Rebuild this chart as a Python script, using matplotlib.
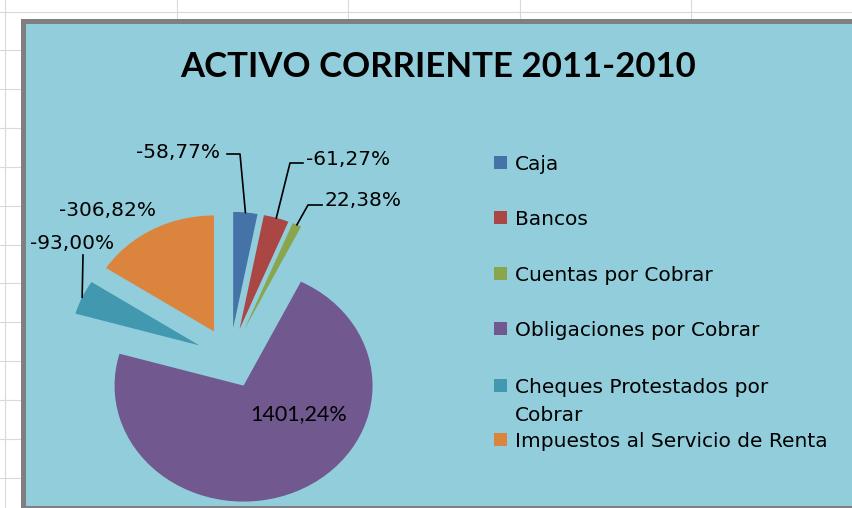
import matplotlib
matplotlib.use("Agg")
import matplotlib.pyplot as plt
from matplotlib.patches import Rectangle
import numpy as np

# data
categories = ["Caja", "Bancos", "Cuentas por Cobrar", "Obligaciones por Cobrar",
              "Cheques Protestados por\nCobrar", "Impuestos al Servicio de Renta"]
variation = [-58.77, -61.27, 22.38, 1401.24, -93.00, -306.82]
colors = ["#4572A7", "#AA4643", "#89A54E", "#71588F", "#4198AF", "#DB843D"]
title = "ACTIVO CORRIENTE 2011-2010"

# layout in pixels (figure is 852 x 508)
W, H = 852, 508
CX, CY = 230, 358      # pie centre
SX, SY = 129, 116      # pixels per unit radius (screenshot is stretched sideways)


def px(x, y):
    return ((x - CX) / SX, (CY - y) / SY)


fig = plt.figure(figsize=(W / 100, H / 100), dpi=100, facecolor="white")
ax = fig.add_axes([0, 0, 1, 1])

sizes = np.abs(variation)
wedges, _ = ax.pie(sizes, colors=colors, startangle=90, counterclock=False,
                   explode=[0.26] * len(sizes), radius=1,
                   wedgeprops=dict(linewidth=0, zorder=2))
ax.set_aspect("auto")
ax.set_xlim(px(0, 0)[0], px(W, 0)[0])
ax.set_ylim(px(0, H)[1], px(0, 0)[1])
ax.axis("off")

# spreadsheet grid behind the chart
for gx in [5, 177, 348, 520, 691]:
    ax.plot(*zip(px(gx, 0), px(gx, H)), color="#D9D9D9", lw=0.8, zorder=-2)
for gy in [12, 50, 89, 128, 167, 206, 245, 283, 322, 361, 400, 439, 478]:
    ax.plot(*zip(px(0, gy), px(W, gy)), color="#D9D9D9", lw=0.8, zorder=-2)

# chart area
x0, y0, x1, y1 = 22.5, 20.5, 880, 507.5
ax.add_patch(Rectangle(px(x0, y1), (x1 - x0) / SX, (y1 - y0) / SY,
                       facecolor="#92CDDC", edgecolor="#7F7F7F", lw=3.6, zorder=-1))

ax.text(*px(438, 77), title, fontsize=25, fontweight="bold", family="Lato",
        ha="center", va="baseline", color="black")

# data labels
label_pos = [(178, 158), (348, 165), (363, 206), (299, 420), (72, 249), (107, 216)]
leaders = [[(227, 154), (240, 154)], [(303, 163), (290, 163)],
           [(322, 205), (308, 205)], None, [(83, 255)], None]
for i, (w, v) in enumerate(zip(wedges, variation)):
    txt = f"{v:.2f}%".replace(".", ",")
    fam = "Lato" if i == 3 else "DejaVu Sans"
    fs = 15.5 if i == 3 else 14.5
    ax.text(*px(*label_pos[i]), txt, fontsize=fs, family=fam,
            ha="center", va="baseline", color="black", zorder=5)
    if leaders[i] is not None:
        ang = np.deg2rad((w.theta1 + w.theta2) / 2)
        tip = (w.center[0] + w.r * np.cos(ang), w.center[1] + w.r * np.sin(ang))
        pts = [px(*p) for p in leaders[i]] + [tip]
        ax.plot([p[0] for p in pts], [p[1] for p in pts], color="black", lw=1.2, zorder=4)

# legend
legend_base = [170, 225, 281, 336, 393, 447]
for lab, col, base in zip(categories, colors, legend_base):
    ax.add_patch(Rectangle(px(494, base - 1), 13 / SX, 13 / SY,
                           facecolor=col, edgecolor="none", zorder=5))
    for j, line in enumerate(lab.split("\n")):
        ax.text(*px(515, base + 28 * j), line, fontsize=14.5, family="DejaVu Sans",
                ha="left", va="baseline", color="black", zorder=5)

fig.savefig("out.png", dpi=100, facecolor="white")
